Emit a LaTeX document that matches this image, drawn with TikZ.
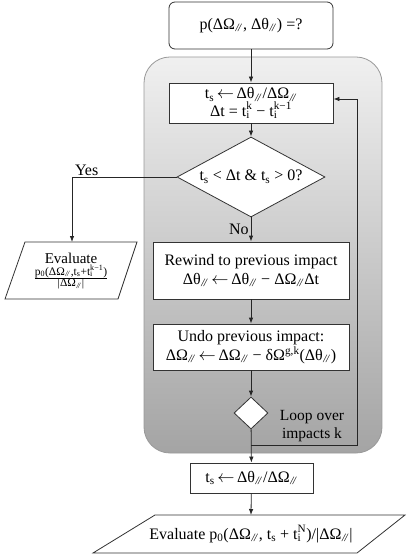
\documentclass[tikz,border=0pt]{standalone}
\usepackage{fontspec}
\setmainfont{Liberation Serif}
\usepackage{tikz}
\usetikzlibrary{arrows.meta}
\usetikzlibrary{shapes.geometric}

\newcommand{\pl}{\textsubscript{\kern0.6pt\textit{/\kern-0.6pt/}\kern0.4pt}}
\newcommand{\tik}[1]{t\rlap{\textsubscript{i}}\textsuperscript{#1}}
\newcommand{\assign}{\,$\leftarrow$\,}

\begin{document}
\begin{tikzpicture}[x=1bp,y=-1bp,
  every node/.style={font=\fontsize{16bp}{19bp}\selectfont},
  box/.style={draw=black!80, line width=0.8bp, fill=white, align=center, inner sep=2bp},
  io/.style={draw=black!80, line width=0.8bp, fill=white},
  arr/.style={-{Latex[length=6bp,width=4.5bp]}, draw=black!85, line width=0.8bp}]

\useasboundingbox (0,0) rectangle (416,560);

% loop region
\node[draw=black!40, line width=0.8bp, rounded corners=26bp, minimum width=238bp, minimum height=396bp,
  top color={rgb,255:red,240;green,240;blue,240}, bottom color={rgb,255:red,164;green,164;blue,164}]
  (loopbox) at (263,255) {};

\node[box, rounded corners=6bp, minimum width=164bp, minimum height=47bp] (init) at (251,25.5) {p(ΔΩ\pl, Δθ\pl) =?};
\node[box, minimum width=164bp, minimum height=40bp, font=\fontsize{16bp}{17.5bp}\selectfont] (speed) at (251,103)
  {t\textsubscript{s}\assign Δθ\pl/ΔΩ\pl\\ Δt = \tik{k} − \tik{k−1}};
\node[draw=black!80, line width=0.8bp, fill=white, shape=diamond, aspect=1.85, inner sep=0pt,
  minimum width=148bp, minimum height=80bp] (check) at (251,177) {t\textsubscript{s} < Δt \& t\textsubscript{s} > 0?};
\node[box, minimum width=196bp, minimum height=57bp] (rewind) at (251,270.5)
  {Rewind to previous impact\\ Δθ\pl\assign Δθ\pl{} − ΔΩ\pl Δt};
\node[box, minimum width=196bp, minimum height=46bp] (undo) at (251,347)
  {Undo previous impact:\\ ΔΩ\pl\assign ΔΩ\pl{} − δΩ\textsuperscript{g,k}(Δθ\pl)};
\node[draw=black!80, line width=0.8bp, fill=white, shape=diamond, inner sep=0pt,
  minimum width=34bp, minimum height=32bp] (next) at (251,413) {};
\node[align=center, font=\fontsize{15.5bp}{18bp}\selectfont] (looptxt) at (312,426) {Loop over\\ impacts k};
\node[box, minimum width=123bp, minimum height=30bp] (ts) at (251.5,478) {t\textsubscript{s}\assign Δθ\pl/ΔΩ\pl};

% outputs
\draw[io] (25,242) -- (137,242) -- (118,299) -- (5,299) -- cycle;
\node[align=center, font=\fontsize{15bp}{16bp}\selectfont] (evalk) at (71,271) {Evaluate\\[1bp]
  $\frac{\mbox{\fontsize{11.5bp}{13bp}\selectfont p\textsubscript{0}(ΔΩ\pl,t\textsubscript{s}+\tik{k−1})}}{\mbox{\fontsize{11.5bp}{13bp}\selectfont |ΔΩ\pl|}}$};
\coordinate (evaltop) at (72,242);

\draw[io] (155,515) -- (405,515) -- (357,553) -- (93,553) -- cycle;
\node (final) at (251,534) {Evaluate p\textsubscript{0}(ΔΩ\pl, t\textsubscript{s} + \tik{N})/|ΔΩ\pl|};
\coordinate (finaltop) at (251,515);

% connectors
\coordinate (split) at (251,445);
\coordinate (loopr) at (357,445);
\draw[arr] (init) -- (speed);
\draw[arr] (speed) -- (check);
\draw[arr] (check) -- (rewind) node[midway, left, inner sep=2bp] {No};
\draw[arr] (check.west) -| (evaltop) node[pos=0.43, above, inner sep=1bp] {Yes};
\draw[arr] (rewind) -- (undo);
\draw[arr] (undo) -- (next);
\draw[arr] (next) -- (ts);
\draw[arr] (split) -- (loopr) |- ([yshift=4bp]speed.east);
\draw[arr] (ts) -- (finaltop);

\end{tikzpicture}
\end{document}
